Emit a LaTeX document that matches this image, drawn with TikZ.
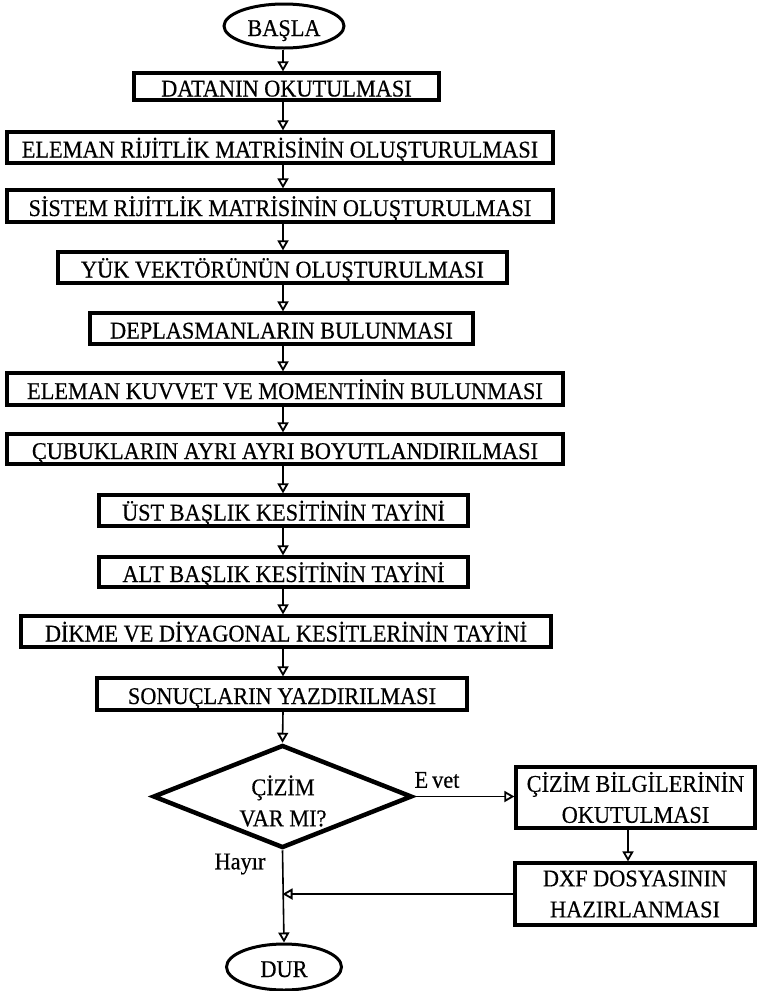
\documentclass[tikz,border=0pt]{standalone}
\usepackage{fontspec}
\setmainfont{Liberation Serif}[FakeBold=0.4, FakeStretch=0.93]
\usetikzlibrary{shapes.geometric,arrows.meta}
\newcommand\boxfont{\fontsize{24}{31}\selectfont}
\begin{document}
\begin{tikzpicture}[x=1pt,y=-1pt,
  stepbox/.style={draw, line width=3.2pt, inner sep=0pt, font=\boxfont,
    text height=20pt, text depth=0pt},
  twobox/.style={draw, line width=3.2pt, inner sep=0pt, font=\boxfont, align=center},
  term/.style={draw, ellipse, line width=3pt, inner sep=0pt, font=\boxfont,
    text height=20pt, text depth=0pt},
  decision/.style={draw, diamond, line width=4.5pt, inner sep=0pt,
    minimum width=259pt, minimum height=103pt},
  lbl/.style={font=\boxfont, inner sep=0pt},
  arr/.style={line width=1.6pt, -{Triangle[open,length=10pt,width=11pt,line width=1.8pt]}}]
\path[use as bounding box, fill=white] (0,0) rectangle (756,991);

\coordinate (sp) at (283,0);
\coordinate (cx) at (628,0);

\node[term, minimum width=120pt, minimum height=44pt] (start) at (284,26) {BAŞLA};
\node[stepbox, minimum width=305pt, minimum height=27pt] (b1) at (286.5,86.5) {DATANIN OKUTULMASI};
\node[stepbox, minimum width=546pt, minimum height=31pt] (b2) at (280,147.5) {ELEMAN RİJİTLİK MATRİSİNİN OLUŞTURULMASI};
\node[stepbox, minimum width=546pt, minimum height=32pt] (b3) at (280,206) {SİSTEM RİJİTLİK MATRİSİNİN OLUŞTURULMASI};
\node[stepbox, minimum width=449pt, minimum height=31pt] (b4) at (282.5,267.5) {YÜK VEKTÖRÜNÜN OLUŞTURULMASI};
\node[stepbox, minimum width=383pt, minimum height=31pt] (b5) at (281.5,328.5) {DEPLASMANLARIN BULUNMASI};
\node[stepbox, minimum width=556pt, minimum height=32pt] (b6) at (285,389) {ELEMAN KUVVET VE MOMENTİNİN BULUNMASI};
\node[stepbox, minimum width=556pt, minimum height=30pt] (b7) at (285,449) {ÇUBUKLARIN AYRI AYRI BOYUTLANDIRILMASI};
\node[stepbox, minimum width=369pt, minimum height=31pt] (b8) at (283.5,510.5) {ÜST BAŞLIK KESİTİNİN TAYİNİ};
\node[stepbox, minimum width=369pt, minimum height=30pt] (b9) at (283.5,572) {ALT BAŞLIK KESİTİNİN TAYİNİ};
\node[stepbox, minimum width=530pt, minimum height=31pt] (b10) at (286,631.5) {DİKME VE DİYAGONAL KESİTLERİNİN TAYİNİ};
\node[stepbox, minimum width=370pt, minimum height=32pt] (b11) at (282,694) {SONUÇLARIN YAZDIRILMASI};

\node[decision] (dia) at (282.5,796.5) {};
\node[lbl, align=center] (diatext) at (283,801) {ÇİZİM\\VAR MI?};

\node[twobox, minimum width=239pt, minimum height=61pt] (cb) at (635.5,797.5) {ÇİZİM BİLGİLERİNİN\\OKUTULMASI};
\node[twobox, minimum width=240pt, minimum height=62pt] (dxf) at (635,894) {DXF DOSYASININ\\HAZIRLANMASI};

\node[term, minimum width=115pt, minimum height=46pt] (stop) at (284,967) {DUR};

\node[lbl] (evet) at (437,780) {E\,vet};
\node[lbl] (hayir) at (240,864) {Hayır};

\draw[arr] (start.south -| sp) -- (b1.north -| sp);
\draw[arr] (b1.south -| sp) -- (b2.north -| sp);
\draw[arr] (b2.south -| sp) -- (b3.north -| sp);
\draw[arr] (b3.south -| sp) -- (b4.north -| sp);
\draw[arr] (b4.south -| sp) -- (b5.north -| sp);
\draw[arr] (b5.south -| sp) -- (b6.north -| sp);
\draw[arr] (b6.south -| sp) -- (b7.north -| sp);
\draw[arr] (b7.south -| sp) -- (b8.north -| sp);
\draw[arr] (b8.south -| sp) -- (b9.north -| sp);
\draw[arr] (b9.south -| sp) -- (b10.north -| sp);
\draw[arr] (b10.south -| sp) -- (b11.north -| sp);
\draw[arr] (b11.south -| sp) -- (dia.north);
\draw[arr] (dia.east) -- (cb.west |- dia.east);
\draw[arr] (cb.south -| cx) -- (dxf.north -| cx);
\draw[arr] (dxf.west) -- (dxf.west -| dia.south);
\draw[arr] (dia.south) -- (stop.north);
\end{tikzpicture}
\end{document}
